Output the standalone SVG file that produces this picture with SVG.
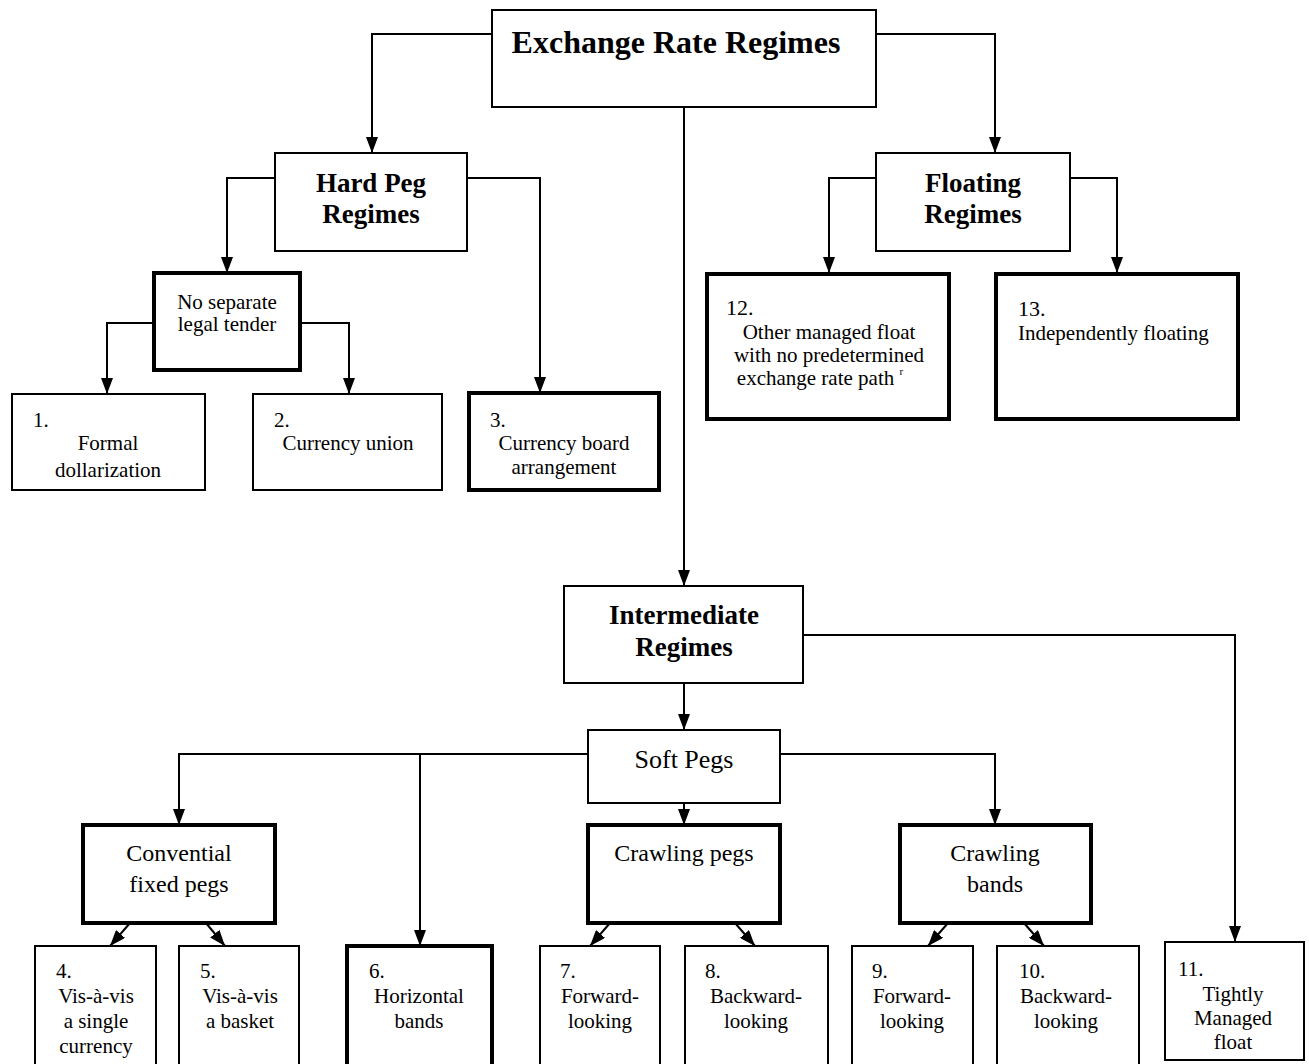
<svg xmlns="http://www.w3.org/2000/svg" width="1309" height="1064" viewBox="0 0 1309 1064">
<style>
.b{fill:#fff;stroke:#000;stroke-width:2}
.t{fill:#fff;stroke:#000;stroke-width:4}
text{font-family:"Liberation Serif","Times New Roman",serif;fill:#000}
.h{font-weight:bold;font-size:27px;text-anchor:middle}
.m{font-size:24px;text-anchor:middle}
.s{font-size:21px}
.n{font-size:22px}
.c{text-anchor:middle}
#connectors path{fill:none;stroke:#000;stroke-width:2;marker-end:url(#arr)}
</style>
<defs>
<marker id="arr" viewBox="0 0 16 12" refX="16" refY="6" markerWidth="16" markerHeight="12" markerUnits="userSpaceOnUse" orient="auto">
<path d="M0,0 L16,6 L0,12 z" fill="#000"/>
</marker>
</defs>
<rect width="1309" height="1064" fill="#fff"/>
<g id="connectors">
<path d="M492,34 H372 V153"/>
<path d="M876,34 H995 V153"/>
<path d="M684,107 V586"/>
<path d="M275,178 H227 V273"/>
<path d="M467,178 H540 V393"/>
<path d="M154,323 H107 V394"/>
<path d="M300,323 H349 V394"/>
<path d="M876,178 H829 V273"/>
<path d="M1070,178 H1117 V273"/>
<path d="M803,635 H1235 V942"/>
<path d="M684,683 V730"/>
<path d="M588,754 H179 V825"/>
<path d="M420,754 V946"/>
<path d="M684,803 V825"/>
<path d="M780,754 H995 V825"/>
<path d="M130,923 L110,946"/>
<path d="M206,923 L225,946"/>
<path d="M610,923 L590,946"/>
<path d="M735,923 L755,946"/>
<path d="M948,923 L928,946"/>
<path d="M1024,923 L1044,946"/>
</g>
<g id="n-top"><rect class="b" x="492" y="10" width="384" height="97"/><text x="676" y="53" font-size="32" font-weight="bold" text-anchor="middle">Exchange Rate Regimes</text></g>
<g id="n-hard"><rect class="b" x="275" y="153" width="192" height="98"/><text class="h" x="371" y="192">Hard Peg</text><text class="h" x="371" y="223">Regimes</text></g>
<g id="n-float"><rect class="b" x="876" y="153" width="194" height="98"/><text class="h" x="973" y="192">Floating</text><text class="h" x="973" y="223">Regimes</text></g>
<g id="n-nosep"><rect class="t" x="154" y="273" width="146" height="97"/><text class="s c" x="227" y="309">No separate</text><text class="s c" x="227" y="331">legal tender</text></g>
<g id="n-1"><rect class="b" x="12" y="394" width="193" height="96"/><text class="s" x="33" y="427">1.</text><text class="s c" x="108" y="450">Formal</text><text class="s c" x="108" y="477">dollarization</text></g>
<g id="n-2"><rect class="b" x="253" y="394" width="189" height="96"/><text class="s" x="274" y="427">2.</text><text class="s c" x="348" y="450">Currency union</text></g>
<g id="n-3"><rect class="t" x="469" y="393" width="190" height="97"/><text class="s" x="490" y="427">3.</text><text class="s c" x="564" y="450">Currency board</text><text class="s c" x="564" y="474">arrangement</text></g>
<g id="n-12"><rect class="t" x="707" y="274" width="242" height="145"/><text class="n" x="726" y="315">12.</text><text class="s c" x="829" y="339">Other managed float</text><text class="s c" x="829" y="362">with no predetermined</text><text class="s c" x="820" y="385">exchange rate path <tspan font-size="11" dy="-10">r</tspan></text></g>
<g id="n-13"><rect class="t" x="996" y="274" width="242" height="145"/><text class="n" x="1018" y="316">13.</text><text class="s" x="1018" y="340">Independently floating</text></g>
<g id="n-inter"><rect class="b" x="564" y="586" width="239" height="97"/><text class="h" x="684" y="624">Intermediate</text><text class="h" x="684" y="656">Regimes</text></g>
<g id="n-soft"><rect class="b" x="588" y="730" width="192" height="73"/><text x="684" y="768" font-size="26" text-anchor="middle">Soft Pegs</text></g>
<g id="n-conv"><rect class="t" x="83" y="825" width="192" height="98"/><text class="m" x="179" y="861">Convential</text><text class="m" x="179" y="892">fixed pegs</text></g>
<g id="n-cpeg"><rect class="t" x="588" y="825" width="192" height="98"/><text class="m" x="684" y="861">Crawling pegs</text></g>
<g id="n-cband"><rect class="t" x="900" y="825" width="191" height="98"/><text class="m" x="995" y="861">Crawling</text><text class="m" x="995" y="892">bands</text></g>
<g id="n-4"><rect class="b" x="35" y="946" width="121" height="125"/><text class="s" x="56" y="978">4.</text><text class="s c" x="96" y="1003">Vis-à-vis</text><text class="s c" x="96" y="1028">a single</text><text class="s c" x="96" y="1053">currency</text></g>
<g id="n-5"><rect class="b" x="179" y="946" width="120" height="125"/><text class="s" x="200" y="978">5.</text><text class="s c" x="240" y="1003">Vis-à-vis</text><text class="s c" x="240" y="1028">a basket</text></g>
<g id="n-6"><rect class="t" x="347" y="946" width="145" height="125"/><text class="s" x="369" y="978">6.</text><text class="s c" x="419" y="1003">Horizontal</text><text class="s c" x="419" y="1028">bands</text></g>
<g id="n-7"><rect class="b" x="540" y="946" width="120" height="125"/><text class="s" x="560" y="978">7.</text><text class="s c" x="600" y="1003">Forward-</text><text class="s c" x="600" y="1028">looking</text></g>
<g id="n-8"><rect class="b" x="685" y="946" width="143" height="125"/><text class="s" x="705" y="978">8.</text><text class="s c" x="756" y="1003">Backward-</text><text class="s c" x="756" y="1028">looking</text></g>
<g id="n-9"><rect class="b" x="852" y="946" width="121" height="125"/><text class="s" x="872" y="978">9.</text><text class="s c" x="912" y="1003">Forward-</text><text class="s c" x="912" y="1028">looking</text></g>
<g id="n-10"><rect class="b" x="997" y="946" width="142" height="125"/><text class="s" x="1019" y="978">10.</text><text class="s c" x="1066" y="1003">Backward-</text><text class="s c" x="1066" y="1028">looking</text></g>
<g id="n-11"><rect class="b" x="1165" y="942" width="139" height="118"/><text class="s" x="1178" y="976">11.</text><text class="s c" x="1233" y="1001">Tightly</text><text class="s c" x="1233" y="1025">Managed</text><text class="s c" x="1233" y="1049">float</text></g>
</svg>
